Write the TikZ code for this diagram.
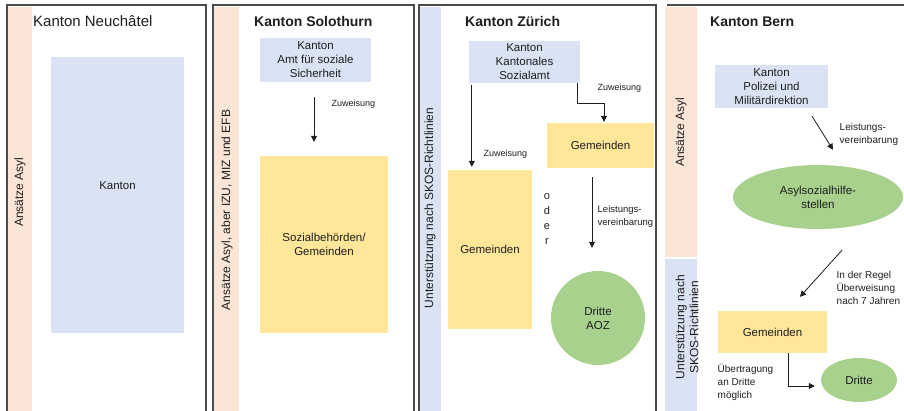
\documentclass[tikz,border=0pt]{standalone}
\usepackage{fontspec}
\setmainfont{Liberation Sans}
\usetikzlibrary{arrows.meta,positioning,calc,shapes.geometric}
\definecolor{Ink}{HTML}{1E1E1E}
\definecolor{Peach}{HTML}{FBE5D6}
\definecolor{Sky}{HTML}{DAE3F3}
\definecolor{Sand}{HTML}{FFE699}
\definecolor{Leaf}{HTML}{A9D18E}
\newcommand{\BandText}[4]{%
  \node[rotate=90,align=center,font=\fontsize{12}{14}\selectfont,text=Ink] (#1) at (#2,#3) {#4};%
}
\newcommand{\Note}[5]{%
  \node[anchor=west,align=left,inner sep=0.5pt,font=\fontsize{#2}{13}\selectfont,text=Ink] (#1) at (#3,#4) {#5};%
}

\begin{document}
\begin{tikzpicture}[x=1pt,y=-1pt,
  box/.style={inner sep=1pt,align=center,text=Ink,font=\fontsize{11.5}{14}\selectfont},
  title/.style={anchor=west,inner sep=0pt,text=Ink,font=\fontsize{14}{16}\selectfont\bfseries},
  arr/.style={draw=Ink,line width=0.8pt,-{Triangle[width=6pt,length=6pt]}}]
\useasboundingbox (0,0) rectangle (904,410);
\clip (0,0) rectangle (904,410);
\fill[Peach] (8,7) rectangle (32,412);
\fill[Peach] (214,7) rectangle (239,412);
\fill[Sky] (420,7) rectangle (441,412);
\fill[Peach] (665,7) rectangle (697,257);
\fill[Sky] (665,259) rectangle (697,412);
\foreach \a/\b in {7/206,213/414,419/656} {
  \draw[Ink!80,line width=1.1pt] (\a,420) -- (\a,5) -- (\b,5) -- (\b,420);
}
\draw[Ink!80,line width=1.1pt] (667,5) -- (910,5);
\BandText{bne}{20}{192}{Ansätze Asyl}
\BandText{bso}{227}{210}{Ansätze Asyl, aber IZU, MIZ und EFB}
\BandText{bzh}{430}{208}{Unterstützung nach SKOS-Richtlinien}
\BandText{bbe}{681}{132}{Ansätze Asyl}
\BandText{bbs}{687}{327}{Unterstützung nach\\SKOS-Richtlinien}

\node[title,font=\fontsize{15}{17}\selectfont] (tne) at (33,21) {Kanton Neuchâtel};
\node[box,fill=Sky,minimum width=133pt,minimum height=276pt,text depth=18pt] (kne) at (117.5,195) {Kanton};

\node[title] (tso) at (254,21) {Kanton Solothurn};
\node[box,fill=Sky,minimum width=111pt,minimum height=44pt] (kso) at (315.5,60) {Kanton\\Amt für soziale\\Sicherheit};
\node[box,fill=Sand,minimum width=128pt,minimum height=177pt] (soz) at (324,244.5) {Sozialbehörden/\\Gemeinden};
\draw[arr,shorten <=15pt,shorten >=14pt] ([xshift=-1.5pt]kso.south) -- ([xshift=-1.5pt]kso.south |- soz.north);
\Note{zso}{9}{331}{104}{Zuweisung}

\node[title] (tzh) at (465,21) {Kanton Zürich};
\node[box,fill=Sky,minimum width=111pt,minimum height=42pt] (kzh) at (524.5,62) {Kanton\\Kantonales\\Sozialamt};
\node[box,fill=Sand,minimum width=84pt,minimum height=159pt] (gzl) at (490,249.5) {Gemeinden};
\node[box,fill=Sand,minimum width=107pt,minimum height=45pt] (gzr) at (600.5,145.5) {Gemeinden};
\node[box,circle,fill=Leaf,minimum size=94pt] (aoz) at (598,318) {Dritte\\AOZ};
\node[box,font=\fontsize{11}{15}\selectfont] (oder) at (547,219) {o\\d\\e\\r};
\draw[arr,shorten <=2pt,shorten >=3pt] ([xshift=3pt]kzh.south west) -- ([xshift=3pt]kzh.south west |- gzl.north);
\draw[arr,shorten >=1pt] ([xshift=-3pt]kzh.south east) -- ++(0,20) -| ([xshift=3.5pt]gzr.north);
\draw[arr,shorten <=9pt,shorten >=23pt] ([xshift=-8.5pt]gzr.south) -- ([xshift=-8.5pt]gzr.south |- aoz.north);
\Note{zzl}{9}{483}{154}{Zuweisung}
\Note{zzr}{9}{597}{88}{Zuweisung}
\Note{lzh}{9.5}{597}{216.5}{Leistungs-\\vereinbarung}

\node[title] (tbe) at (710,22) {Kanton Bern};
\node[box,fill=Sky,minimum width=113pt,minimum height=43pt] (kbe) at (771.5,86.5) {Kanton\\Polizei und\\Militärdirektion};
\node[box,ellipse,fill=Leaf,minimum width=170pt,minimum height=64pt,inner sep=0pt] (ash) at (818,197) {Asylsozialhilfe-\\stellen};
\node[box,fill=Sand,minimum width=109pt,minimum height=42pt] (gbe) at (772.5,332) {Gemeinden};
\node[box,ellipse,fill=Leaf,minimum width=76pt,minimum height=44pt,inner sep=0pt] (dbe) at (859,380) {Dritte};
\draw[arr] ([xshift=40.5pt,yshift=-8pt]kbe.south) -- ([xshift=15pt,yshift=15pt]ash.north);
\draw[arr] ([xshift=24pt,yshift=-21pt]ash.south) -- ([xshift=27.5pt,yshift=14pt]gbe.north);
\draw[arr] ([xshift=15.5pt]gbe.south) |- ([xshift=-6pt,yshift=-6pt]dbe.west);
\Note{lbe}{10}{839}{134.5}{Leistungs-\\vereinbarung}
\Note{rbe}{10}{836}{288}{In der Regel\\Überweisung\\nach 7 Jahren}
\Note{ube}{10}{717}{382.5}{Übertragung\\an Dritte\\möglich}
\end{tikzpicture}
\end{document}
